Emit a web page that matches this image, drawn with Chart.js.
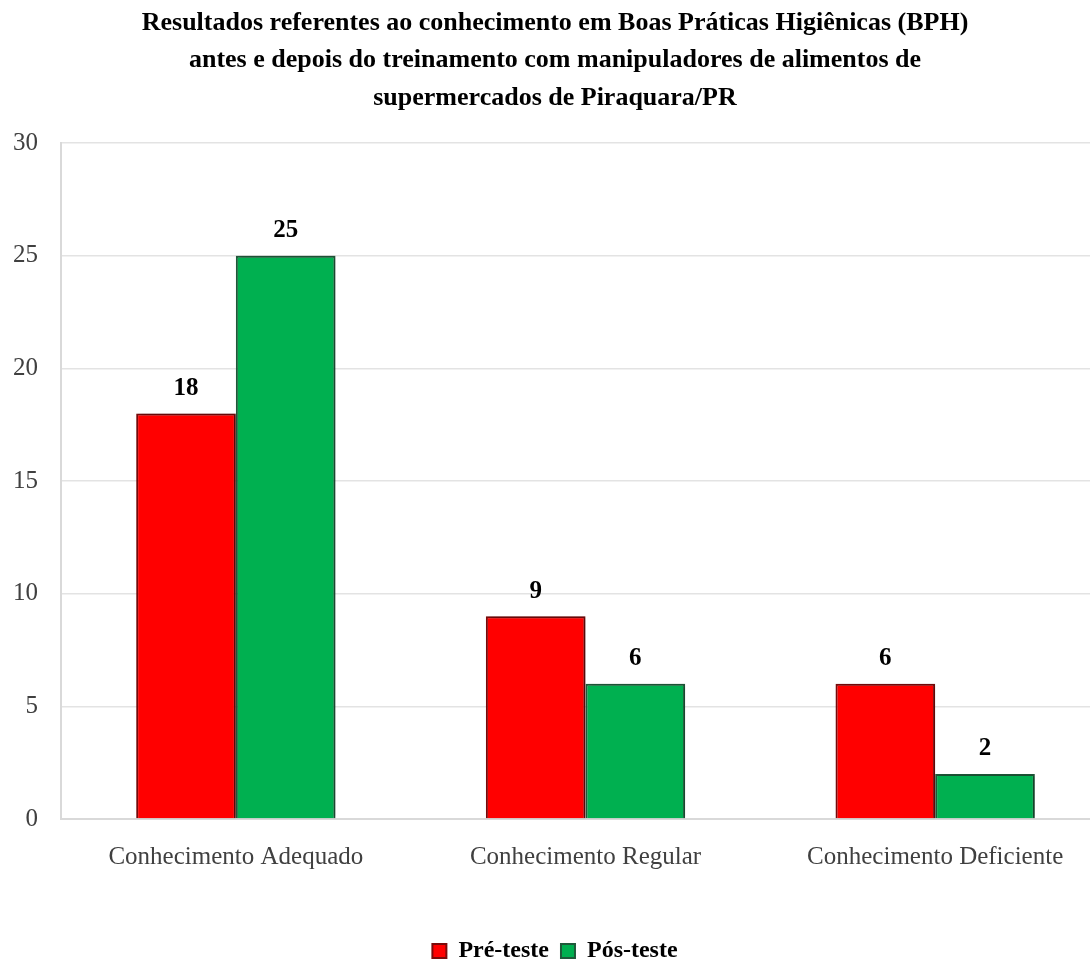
<!DOCTYPE html>
<html>
<head>
<meta charset="utf-8">
<script src="https://cdn.jsdelivr.net/npm/chart.js@4/dist/chart.umd.min.js"></script>
<style>
  html, body { margin: 0; padding: 0; background: #fff; overflow: hidden; }
  #wrap { width: 1110px; height: 963px; }
</style>
</head>
<body>
<div id="wrap"><canvas id="grafico"></canvas></div>
<script>
const CATEGORIAS = ["Conhecimento Adequado", "Conhecimento Regular", "Conhecimento Deficiente"];
const PRE_TESTE = [18, 9, 6];
const POS_TESTE = [25, 6, 2];
const TITULO = [
    "Resultados referentes ao conhecimento em Boas Práticas Higiênicas (BPH)",
    "antes e depois do treinamento com manipuladores de alimentos de",
    "supermercados de Piraquara/PR"
];

const FONTE = "'Liberation Serif', 'Times New Roman', serif";

// sombra leve nas barras
const sombra = {
    id: "sombra",
    beforeDatasetsDraw(chart) {
        const ctx = chart.ctx;
        ctx.save();
        ctx.shadowColor = "rgba(0,0,0,0.35)";
        ctx.shadowBlur = 4;
        ctx.shadowOffsetX = 2;
        ctx.shadowOffsetY = 0;
    },
    afterDatasetsDraw(chart) {
        chart.ctx.restore();
    }
};

// numeros em cima das barras
const rotulos = {
    id: "rotulos",
    afterDatasetsDraw(chart) {
        const ctx = chart.ctx;
        ctx.save();
        ctx.font = "bold 25px " + FONTE;
        ctx.fillStyle = "#000";
        ctx.textAlign = "center";
        ctx.textBaseline = "middle";
        chart.data.datasets.forEach((ds, i) => {
            chart.getDatasetMeta(i).data.forEach((bar, j) => {
                ctx.fillText(ds.data[j], bar.x, bar.y - 25);
            });
        });
        ctx.restore();
    }
};

new Chart(document.getElementById("grafico"), {
    type: "bar",
    data: {
        labels: CATEGORIAS,
        datasets: [
            {
                label: "Pré-teste",
                data: PRE_TESTE,
                backgroundColor: "#FF0000",
                borderColor: "#7A0A0A",
                borderWidth: 2
            },
            {
                label: "Pós-teste",
                data: POS_TESTE,
                backgroundColor: "#00B050",
                borderColor: "#1F5A3A",
                borderWidth: 2
            }
        ]
    },
    options: {
        responsive: true,
        maintainAspectRatio: false,
        animation: false,
        layout: { padding: { top: 4, right: 0, bottom: -10, left: 0 } },
        datasets: {
            bar: { categoryPercentage: 0.57, barPercentage: 1 }
        },
        plugins: {
            title: {
                display: true,
                text: TITULO,
                color: "#000",
                font: { family: FONTE, size: 26, weight: "bold", lineHeight: 1.45 },
                padding: { top: 0, bottom: 26 }
            },
            legend: {
                position: "bottom",
                labels: {
                    color: "#000",
                    font: { family: FONTE, size: 24, weight: "bold" },
                    boxWidth: 14,
                    boxHeight: 14,
                    padding: 12
                }
            },
            tooltip: { enabled: false }
        },
        scales: {
            x: {
                grid: { display: false },
                border: { color: "#d9d9d9", width: 2 },
                ticks: {
                    color: "#404040",
                    font: { family: FONTE, size: 25 },
                    padding: 15
                },
                afterFit(s) { s.height = 108; }
            },
            y: {
                min: 0,
                max: 30,
                grid: { color: "#e3e3e3", lineWidth: 1.5, drawTicks: false },
                border: { display: true, color: "#d9d9d9", width: 2 },
                ticks: {
                    stepSize: 5,
                    color: "#404040",
                    font: { family: FONTE, size: 25 },
                    padding: 23
                },
                afterFit(s) { s.width = 61; }
            }
        }
    },
    plugins: [sombra, rotulos]
});
</script>
</body>
</html>
